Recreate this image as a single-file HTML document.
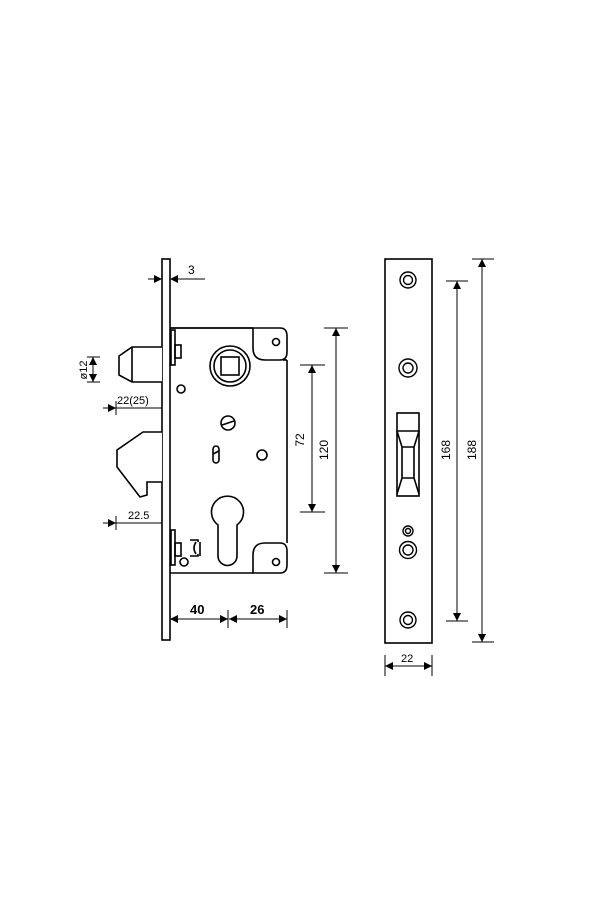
<!DOCTYPE html>
<html><head><style>body{margin:0;background:#fff}svg{display:block}</style></head>
<body>
<svg width="600" height="900" viewBox="0 0 600 900" xmlns="http://www.w3.org/2000/svg" font-family="Liberation Sans, sans-serif">
<defs>
<marker id="a" viewBox="0 0 10 10" refX="10" refY="5" markerWidth="10" markerHeight="8" orient="auto-start-reverse" markerUnits="userSpaceOnUse"><path d="M0,0 L10,5 L0,10 z" fill="#000"/></marker>
</defs>
<g fill="none" stroke="#000" stroke-width="1.6">
<!-- faceplate -->
<rect x="162" y="259" width="8" height="381" fill="#fff"/>
<!-- body -->
<path d="M170,328 H253 M170,573 H253 M287,360 V543" />
<path d="M170,328 H253 M287,360" />
<path d="M253,328 H280 Q287,328 287,336 V352 Q287,360 280,360 L265,360 Q253,360 253,348 Z" fill="#fff"/>
<path d="M253,573 H280 Q287,573 287,565 V551 Q287,543 280,543 L265,543 Q253,543 253,555 Z" fill="#fff"/>
<line x1="287" y1="360" x2="283" y2="360"/>
<circle cx="276" cy="342" r="3.5"/>
<circle cx="276" cy="562" r="3.5"/>
<!-- top-left strip -->
<rect x="171" y="330" width="4" height="35"/>
<rect x="175" y="345" width="6" height="13"/>
<!-- bottom-left -->
<rect x="171" y="530" width="4" height="35"/>
<rect x="175" y="543" width="6" height="13"/>
<circle cx="184" cy="562" r="4"/>
<path d="M190,540 H198 V542 M190,556 H198 V554 M196,542 Q192,548 196,554 M200,542 V556"/>
<!-- follower -->
<circle cx="230" cy="366" r="20"/>
<circle cx="230" cy="366" r="16"/>
<rect x="221" y="357" width="18" height="18"/>
<circle cx="181" cy="389" r="4"/>
<circle cx="228" cy="423" r="7"/>
<line x1="222" y1="425" x2="234" y2="421"/>
<rect x="213" y="446" width="6" height="17" rx="3"/>
<line x1="213" y1="454" x2="219" y2="451"/>
<circle cx="262" cy="455" r="5"/>
<!-- cylinder -->
<path d="M218,525 A16,16 0 1 1 237,525 V556 A9.5,9.5 0 0 1 218,556 Z"/>
<!-- latch bolt -->
<path d="M162,347 H132 L119,356 V375 L132,382 H162" fill="#fff"/>
<line x1="132" y1="347" x2="132" y2="382"/>
<!-- hook -->
<path d="M162,432 H143 L117,450 V467 L140,497 L147,495 V482 H162" fill="#fff"/>
<!-- right plate -->
<rect x="385" y="259" width="47" height="384"/>
<rect x="397" y="413" width="22" height="83"/>
<path d="M397,431 H419 L414,447 V478 L419,494 M397,431 L402,447 V478 L397,494 M402,447 H414 M402,478 H414"/>
</g>
<g fill="none" stroke="#000" stroke-width="1.4">
<circle cx="408" cy="280" r="8"/><circle cx="408" cy="280" r="4.5"/>
<circle cx="408" cy="368" r="9"/><circle cx="408" cy="368" r="5"/>
<circle cx="408" cy="550" r="8.5"/><circle cx="408" cy="550" r="5"/>
<circle cx="408" cy="531" r="5"/><circle cx="408" cy="531" r="2.5"/>
<circle cx="408" cy="620" r="8"/><circle cx="408" cy="620" r="4.5"/>
</g>
<!-- dimensions -->
<g stroke="#000" stroke-width="1" fill="none">
<line x1="148" y1="279" x2="162" y2="279" marker-end="url(#a)"/>
<line x1="205" y1="279" x2="170" y2="279" marker-end="url(#a)"/>
<line x1="93" y1="357" x2="93" y2="382" marker-start="url(#a)" marker-end="url(#a)"/>
<line x1="87" y1="357" x2="100" y2="357"/><line x1="87" y1="382" x2="100" y2="382"/>
<line x1="103" y1="408" x2="116" y2="408" marker-end="url(#a)"/><line x1="116" y1="408" x2="162" y2="408"/><line x1="116" y1="401" x2="116" y2="415"/>
<line x1="103" y1="523" x2="116" y2="523" marker-end="url(#a)"/><line x1="116" y1="523" x2="162" y2="523"/><line x1="116" y1="516" x2="116" y2="530"/>
<line x1="170" y1="619" x2="228" y2="619" marker-start="url(#a)" marker-end="url(#a)"/>
<line x1="229" y1="619" x2="287" y2="619" marker-start="url(#a)" marker-end="url(#a)"/>
<line x1="228" y1="610" x2="228" y2="628"/><line x1="287" y1="610" x2="287" y2="628"/>
<line x1="300" y1="365" x2="325" y2="365"/><line x1="300" y1="512" x2="325" y2="512"/>
<line x1="312" y1="365" x2="312" y2="512" marker-start="url(#a)" marker-end="url(#a)"/>
<line x1="324" y1="328" x2="348" y2="328"/><line x1="324" y1="573" x2="348" y2="573"/>
<line x1="336" y1="328" x2="336" y2="573" marker-start="url(#a)" marker-end="url(#a)"/>
<line x1="446" y1="281" x2="468" y2="281"/><line x1="446" y1="621" x2="468" y2="621"/>
<line x1="457" y1="281" x2="457" y2="621" marker-start="url(#a)" marker-end="url(#a)"/>
<line x1="472" y1="259" x2="494" y2="259"/><line x1="472" y1="642" x2="494" y2="642"/>
<line x1="482" y1="259" x2="482" y2="642" marker-start="url(#a)" marker-end="url(#a)"/>
<line x1="385" y1="655" x2="385" y2="676"/><line x1="432" y1="655" x2="432" y2="676"/>
<line x1="385" y1="666" x2="432" y2="666" marker-start="url(#a)" marker-end="url(#a)"/>
</g>
<g font-size="12" fill="#000">
<text x="188" y="274">3</text>
<text x="117" y="404" font-size="11">22(25)</text>
<text x="128" y="519" font-size="11">22.5</text>
<text x="190" y="614" font-weight="bold" font-size="13">40</text>
<text x="250" y="614" font-weight="bold" font-size="13">26</text>
<text x="401" y="662" font-size="11">22</text>
<text transform="translate(87,370) rotate(-90)" text-anchor="middle" font-size="11">ø12</text>
<text transform="translate(304,440) rotate(-90)" text-anchor="middle">72</text>
<text transform="translate(328,450) rotate(-90)" text-anchor="middle">120</text>
<text transform="translate(450,450) rotate(-90)" text-anchor="middle">168</text>
<text transform="translate(476,450) rotate(-90)" text-anchor="middle">188</text>
</g>
</svg>
</body></html>
